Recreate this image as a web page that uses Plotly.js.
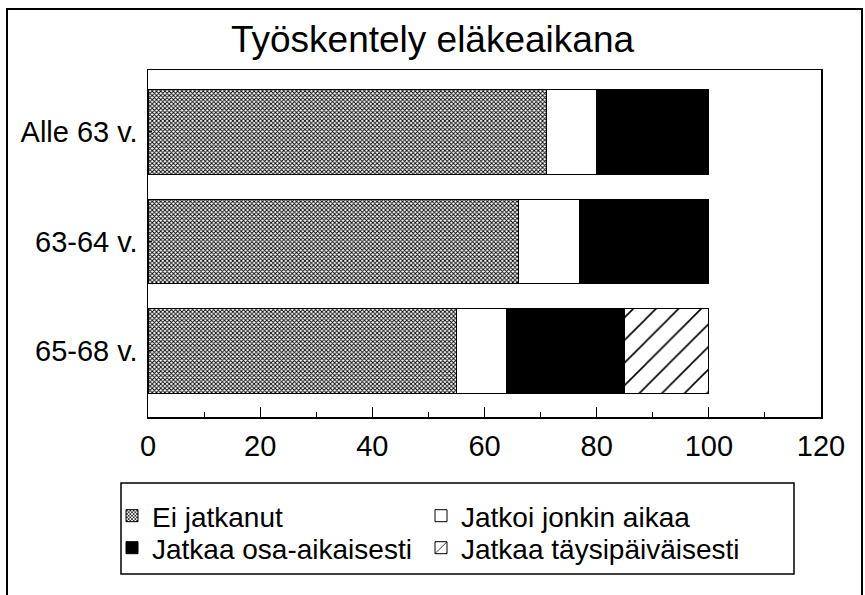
<!DOCTYPE html>
<html>
<head>
<meta charset="utf-8">
<script src="https://cdn.plot.ly/plotly-3.0.1.min.js"></script>
<style>html,body{margin:0;padding:0;background:#fff;}#chart{width:865px;height:595px;}</style>
</head>
<body>
<div id="chart"></div>
<script>
// Data
var categories = ["Alle 63 v.", "63-64 v.", "65-68 v."];
var seriesNames = ["Ei jatkanut", "Jatkoi jonkin aikaa", "Jatkaa osa-aikaisesti", "Jatkaa täysipäiväisesti"];
var eiJatkanut = [71, 66, 55];
var jatkoiJonkinAikaa = [9, 11, 9];
var jatkaaOsaAikaisesti = [20, 23, 21];
var jatkaaTaysipaivaisesti = [0, 0, 15];
var xTickVals = [0, 20, 40, 60, 80, 100, 120];
var chartTitle = "Työskentely eläkeaikana";

var FONT = "Liberation Sans, Arial, Helvetica, sans-serif";
var line = {color: "#000", width: 1};

var traces = [
  {type: "bar", orientation: "h", name: seriesNames[0], y: categories, x: eiJatkanut, legend: "legend",
   marker: {color: "#fff", line: line, pattern: {shape: "x", size: 3, solidity: 0.5, fgcolor: "#000", bgcolor: "#fff", fillmode: "replace"}}},
  {type: "bar", orientation: "h", name: seriesNames[1], y: categories, x: jatkoiJonkinAikaa, legend: "legend2",
   marker: {color: "#fff", line: line}},
  {type: "bar", orientation: "h", name: seriesNames[2], y: categories, x: jatkaaOsaAikaisesti, legend: "legend3",
   marker: {color: "#000", line: line}},
  {type: "bar", orientation: "h", name: seriesNames[3], y: categories, x: jatkaaTaysipaivaisesti, legend: "legend4",
   marker: {color: "#fff", line: line, pattern: {shape: "/", size: 16, solidity: 0.1, fgcolor: "#000", bgcolor: "#fff", fillmode: "replace"}}}
];

var L = 148, R = 821, T = 70, B = 417, W = 865, H = 595;
function px(x){ return (x - L) / (R - L); }
function py(y){ return (B - y) / (B - T); }

var legendFont = {family: FONT, size: 28, color: "#000"};
function legendAt(leftPx, topPx){
  return {orientation: "h", x: px(leftPx), xanchor: "left", y: py(topPx), yanchor: "top",
          font: legendFont, bgcolor: "rgba(0,0,0,0)", borderwidth: 0};
}

var layout = {
  width: W, height: H,
  margin: {l: L, r: W - R, t: T, b: H - B, pad: 0},
  paper_bgcolor: "#fff", plot_bgcolor: "#fff",
  font: {family: FONT, color: "#000", size: 28},
  barmode: "stack",
  bargap: 0.23,
  hovermode: false,
  title: {text: chartTitle, font: {family: FONT, size: 37, color: "#000"},
          xref: "container", x: 0.5, xanchor: "center", yref: "container", y: 1 - 39 / H, yanchor: "middle"},
  xaxis: {range: [0, 120], tickvals: xTickVals, ticks: "inside", ticklen: 10, tickwidth: 1, tickcolor: "#000",
          minor: {dtick: 10, tick0: 0, ticks: "inside", ticklen: 5, tickcolor: "#000", tickwidth: 1},
          showline: true, mirror: true, linecolor: "#000", linewidth: 1.5, showgrid: false, zeroline: false,
          tickfont: {family: FONT, size: 29, color: "#000"}, ticklabelstandoff: 3, fixedrange: true},
  yaxis: {type: "category", categoryorder: "array", categoryarray: categories, range: [2.603, -0.566],
          ticks: "inside", ticklen: 4, tickcolor: "#000", showline: true, mirror: true, linecolor: "#000", linewidth: 1.5,
          showgrid: false, zeroline: false, tickfont: {family: FONT, size: 29, color: "#000"}, ticklabelstandoff: 3, fixedrange: true},
  showlegend: true,
  legend: legendAt(112, 491),
  legend2: legendAt(421, 491),
  legend3: legendAt(112, 523),
  legend4: legendAt(421, 523),
  shapes: [
    {type: "rect", xref: "paper", yref: "paper", x0: px(7), x1: px(862), y0: py(600), y1: py(9),
     line: {color: "#000", width: 2}, fillcolor: "rgba(0,0,0,0)", layer: "below"},
    {type: "rect", xref: "paper", yref: "paper", x0: px(121), x1: px(794), y0: py(574), y1: py(483),
     line: {color: "#000", width: 1.5}, fillcolor: "rgba(0,0,0,0)", layer: "below"}
  ]
};

Plotly.newPlot("chart", traces, layout, {displayModeBar: false, staticPlot: true});
</script>
</body>
</html>
